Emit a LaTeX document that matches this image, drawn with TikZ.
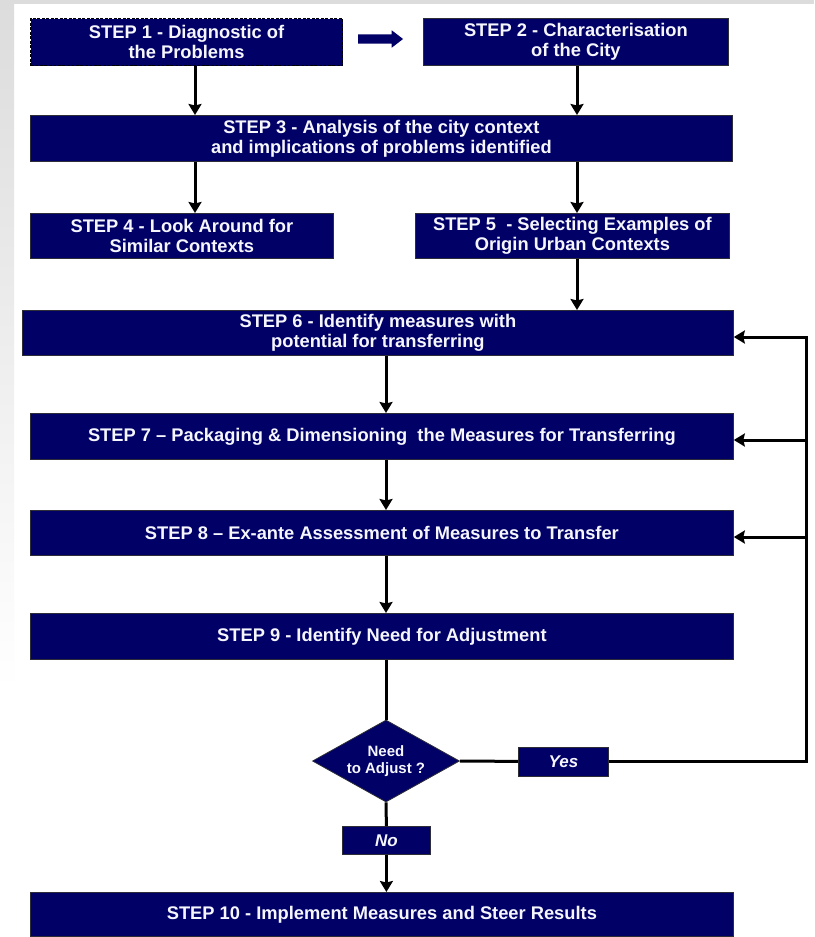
\documentclass[tikz,border=0pt]{standalone}
\usepackage{fontspec}
\setmainfont{Liberation Sans}
\usetikzlibrary{shapes.geometric,shapes.arrows,arrows.meta,calc}

\definecolor{stepfill}{RGB}{0,0,102}
\definecolor{steptext}{RGB}{246,246,255}
\definecolor{stepedge}{RGB}{45,45,55}
\definecolor{slidegray}{RGB}{220,220,220}

\begin{document}
\begin{tikzpicture}[x=1pt,y=-1pt,
  stepbox/.style={draw=stepedge, line width=0.8pt, fill=stepfill, text=steptext,
    font=\bfseries\fontsize{18.3}{20}\selectfont, align=center, inner sep=0pt,
    anchor=north west},
  tagbox/.style={stepbox, font=\bfseries\itshape\fontsize{17}{19}\selectfont},
  decision/.style={diamond, draw=stepedge, line width=0.8pt, fill=stepfill, text=steptext,
    font=\bfseries\fontsize{15}{17}\selectfont, align=center, inner sep=0pt, aspect=1.8,
    minimum width=147pt, minimum height=82pt},
  link/.style={line width=3pt, draw=black},
  flow/.style={link, -{Stealth[width=13pt,length=11pt,inset=1.5pt]}},
]
% page background: white slide with a grey top band and a fading left band
\useasboundingbox (0,0) rectangle (814,937);
\fill[white] (0,0) rectangle (814,937);
\shade[top color=slidegray, bottom color=white] (0,0) rectangle (14,690);
\fill[slidegray] (0,0) rectangle (814,4);

% step boxes
\node[stepbox, dashed, dash pattern=on 3pt off 1.5pt, draw=black, line width=1.1pt,
      minimum width=312pt, minimum height=47pt] (s1) at (30,18)
      {STEP 1 - Diagnostic of\\the Problems};
\node[stepbox, minimum width=305pt, minimum height=47pt] (s2) at (423,18)
      {STEP 2 - Characterisation\\of the City};
\node[stepbox, minimum width=702pt, minimum height=46pt] (s3) at (30,115)
      {STEP 3 - Analysis of the city context\\and implications of problems identified};
\node[stepbox, minimum width=303pt, minimum height=45pt] (s4) at (30,213)
      {STEP 4 - Look Around for\\Similar Contexts};
\node[stepbox, minimum width=314pt, minimum height=45pt] (s5) at (415,213)
      {STEP 5\ \ - Selecting Examples of\\Origin Urban Contexts};
\node[stepbox, minimum width=711pt, minimum height=45pt] (s6) at (22,310)
      {STEP 6 - Identify measures with\\potential for transferring};
\node[stepbox, minimum width=703pt, minimum height=46pt] (s7) at (30,413)
      {STEP 7 -- Packaging \& Dimensioning\ \ the Measures for Transferring};
\node[stepbox, minimum width=703pt, minimum height=45pt] (s8) at (30,510)
      {STEP 8 -- Ex-ante Assessment of Measures to Transfer};
\node[stepbox, minimum width=703pt, minimum height=46pt] (s9) at (30,613)
      {STEP 9 - Identify Need for Adjustment};
\node[stepbox, minimum width=703pt, minimum height=44pt] (s10) at (30,892)
      {STEP 10 - Implement Measures and Steer Results};

% decision and its answers
\node[decision] (ask) at (386,761) {Need\\to Adjust ?};
\node[tagbox, minimum width=90pt, minimum height=29pt] (yes) at (518,746.5) {Yes};
\node[tagbox, minimum width=88pt, minimum height=28pt] (no) at (342,826) {No};

% block arrow from step 1 to step 2
\node[single arrow, fill=stepfill, draw=none, inner sep=4.5pt,
      minimum height=45pt, minimum width=17pt, single arrow head extend=4pt,
      single arrow tip angle=75] (next) at (377.5,39) {};

% connector columns and feedback entry points
\coordinate (cl) at (195,0);
\coordinate (cr) at (577,0);
\coordinate (cm) at (386,0);
\coordinate (t6) at (806,337);
\coordinate (t7) at (806,440);
\coordinate (t8) at (806,537);

\draw[flow] (s1.south -| cl) -- (s3.north -| cl);
\draw[flow] (s2.south -| cr) -- (s3.north -| cr);
\draw[flow] (s3.south -| cl) -- (s4.north -| cl);
\draw[flow] (s3.south -| cr) -- (s5.north -| cr);
\draw[flow] (s5.south -| cr) -- (s6.north -| cr);
\draw[flow] (s6.south -| cm) -- (s7.north -| cm);
\draw[flow] (s7.south -| cm) -- (s8.north -| cm);
\draw[flow] (s8.south -| cm) -- (s9.north -| cm);
\draw[link] (s9.south -| cm) -- (ask.north);
\draw[link] (ask.south) -- (no.north);
\draw[flow] (no.south) -- (s10.north -| no.south);

% feedback loop on the right
\draw[link] (ask.east) -- (yes.west);
\draw[flow] (yes.east) -| (t6) -- (t6 -| s6.east);
\draw[flow] (t7) -- (t7 -| s7.east);
\draw[flow] (t8) -- (t8 -| s8.east);
\end{tikzpicture}
\end{document}
